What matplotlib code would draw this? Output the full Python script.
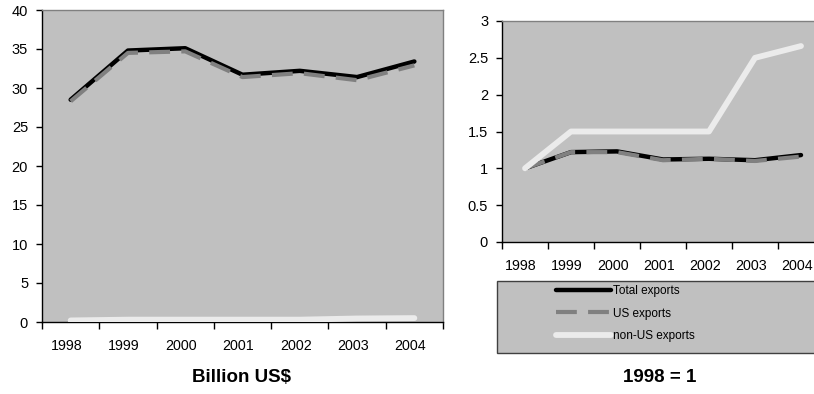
import matplotlib
matplotlib.use("Agg")
import matplotlib.pyplot as plt
from matplotlib.patches import Rectangle
from matplotlib.ticker import FixedLocator, FuncFormatter
from matplotlib.transforms import ScaledTranslation

years = ["1998", "1999", "2000", "2001", "2002", "2003", "2004"]
total_bn = [28.5, 34.8, 35.1, 31.7, 32.2, 31.4, 33.4]
us_bn = [28.3, 34.5, 34.7, 31.4, 31.9, 31.0, 32.9]
nonus_bn = [0.2, 0.3, 0.3, 0.3, 0.3, 0.45, 0.5]

total_idx = [1.0, 1.22, 1.23, 1.12, 1.13, 1.11, 1.18]
us_idx = [1.0, 1.22, 1.22, 1.11, 1.13, 1.10, 1.16]
nonus_idx = [1.0, 1.5, 1.5, 1.5, 1.5, 2.5, 2.66]

series_names = ["Total exports", "US exports", "non-US exports"]

plt.rcParams['font.family'] = ['Liberation Sans', 'DejaVu Sans']

W, H = 814, 394
fig = plt.figure(figsize=(W / 100, H / 100), dpi=100)

BG = "#C0C0C0"
GRAY = "#808080"
WHITE = "#EBEBEB"


def px_axes(x0, y0, x1, y1):
    return fig.add_axes([x0 / W, 1 - y1 / H, (x1 - x0) / W, (y1 - y0) / H])


def style_axes(ax, ymax, ystep, fmt):
    ax.set_facecolor(BG)
    for s in ("top", "right"):
        ax.spines[s].set_color(GRAY)
        ax.spines[s].set_linewidth(1.0)
    for s in ("left", "bottom"):
        ax.spines[s].set_color("black")
        ax.spines[s].set_linewidth(1.0)
    n = len(years)
    ax.set_xlim(-0.5, n - 0.5)
    ax.set_ylim(0, ymax)
    yt = [i * ystep for i in range(int(round(ymax / ystep)) + 1)]
    ax.set_yticks(yt)
    ax.yaxis.set_major_formatter(FuncFormatter(lambda v, p: fmt(v)))
    ax.tick_params(axis="y", direction="out", length=4, width=1, pad=6, labelsize=10.5)
    ax.xaxis.set_major_locator(FixedLocator([i - 0.5 for i in range(n + 1)]))
    ax.xaxis.set_major_formatter(FuncFormatter(lambda v, p: ""))
    ax.xaxis.set_minor_locator(FixedLocator(list(range(n))))
    ax.set_xticklabels(years, minor=True)
    ax.tick_params(axis="x", which="major", direction="out", length=5, width=1)
    ax.tick_params(axis="x", which="minor", length=0, pad=12, labelsize=10.3)
    shift = ScaledTranslation(-4 / 100, 0, fig.dpi_scale_trans)
    for lab in ax.get_xticklabels(minor=True):
        lab.set_transform(lab.get_transform() + shift)


def draw(ax, tot, us, non):
    x = list(range(len(years)))
    l1, = ax.plot(x, tot, color="black", lw=3.2, solid_capstyle="round",
                  solid_joinstyle="round", label=series_names[0], zorder=3)
    l2, = ax.plot(x, us, color=GRAY, lw=3.0, linestyle=(0, (5, 2.7)),
                  dash_capstyle="butt", label=series_names[1], zorder=4)
    l3, = ax.plot(x, non, color=WHITE, lw=4.2, solid_capstyle="round",
                  solid_joinstyle="round", label=series_names[2], zorder=5)
    return [l1, l2, l3]


ax1 = px_axes(42, 10, 443, 322)
style_axes(ax1, 40, 5, lambda v: "%g" % v)
draw(ax1, total_bn, us_bn, nonus_bn)

ax2 = px_axes(502, 21, 824, 242)
style_axes(ax2, 3, 0.5, lambda v: "%g" % v)
handles = draw(ax2, total_idx, us_idx, nonus_idx)

# legend box
box = Rectangle((497 / W, 1 - 353 / H), (824 - 497) / W, (353 - 281) / H,
                transform=fig.transFigure, facecolor=BG, edgecolor="#404040",
                lw=1.0, zorder=1)
fig.patches.append(box)
leg = fig.legend(handles=handles, loc="upper left",
                 bbox_to_anchor=(556 / W, 1 - 285 / H), frameon=False,
                 fontsize=8.5, handlelength=4.7, handletextpad=0.15,
                 labelspacing=0.9, borderaxespad=0, borderpad=0)

fig.text(242 / W, 1 - 378 / H, "Billion US$", ha="center", va="center",
         fontsize=13.5, fontweight="bold")
fig.text(660 / W, 1 - 377 / H, "1998 = 1", ha="center", va="center",
         fontsize=13.5, fontweight="bold")

fig.savefig("out.png", dpi=100, facecolor="white")
